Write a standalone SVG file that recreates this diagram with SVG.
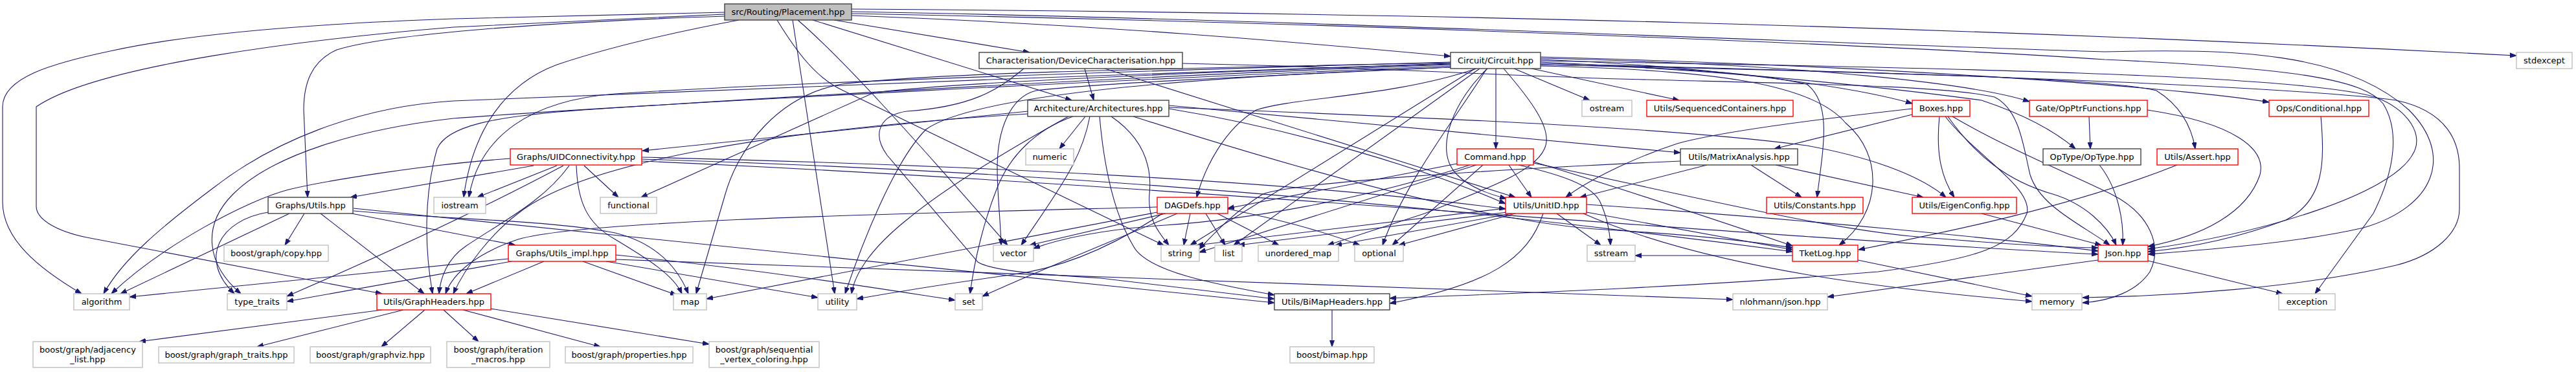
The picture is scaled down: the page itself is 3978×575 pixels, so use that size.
<svg xmlns="http://www.w3.org/2000/svg" width="3978" height="575" viewBox="0 0 3978 575">
<defs>
<style>
.e{fill:none;stroke:#191970;stroke-width:1.1;marker-end:url(#a)}
.n rect{fill:#fff;stroke-width:1.4}
.b rect{stroke:#404040}
.r rect{stroke:#ff0000}
.g rect{stroke:#bfbfbf}
.root rect{fill:#bfbfbf;stroke:#404040}
text{font-family:"DejaVu Sans","Liberation Sans",sans-serif;font-size:13px;text-anchor:middle;fill:#000}
</style>
<marker id="a" viewBox="0 0 10 8" refX="10" refY="4" markerWidth="10" markerHeight="8" markerUnits="userSpaceOnUse" orient="auto"><path d="M0,0.5L10,4L0,7.5z" fill="#191970" stroke="#191970" stroke-width="1"/></marker>
</defs>
<rect width="3978" height="575" fill="#fff"/>
<g id="edges">
<path class="e" d="M1119,19 C950,22 800,26 700,29 C500,36 300,50 170,79 C80,98 4,120 4,165 L4,312 C4,370 60,415 126,454"/>
<path class="e" d="M1119,22 C950,30 820,37 700,42 C480,60 150,100 56,165 L56,319 C56,340 90,358 134,367 L590,454"/>
<path class="e" d="M1119,25 C850,34 600,52 520,77 C480,95 469,130 469,170 L475,305"/>
<path class="e" d="M1141,31 C1040,50 940,73 860,100 C780,130 730,200 716,305"/>
<path class="e" d="M1288,31 L1590,81"/>
<path class="e" d="M1255,31 L1655,155"/>
<path class="e" d="M1315,24 C1700,38 2000,65 2240,87"/>
<path class="e" d="M1315,14 C2200,20 3000,40 3886,86"/>
<path class="e" d="M1232,31 C1300,90 1400,200 1556,379"/>
<path class="e" d="M1200,31 C1230,80 1260,120 1300,139 L1797,379"/>
<path class="e" d="M1224,31 L1289,454"/>
<path class="e" d="M1315,18 C2000,30 2900,70 3250,80 C3450,75 3620,80 3720,170 C3790,240 3760,320 3650,352 C3550,375 3420,385 3317,393"/>
<path class="e" d="M1315,21 C2200,38 3000,75 3250,92 C3560,106 3650,125 3680,160 C3705,200 3700,260 3665,330 L3575,454"/>
<path class="e" d="M1675,106 L1689,155"/>
<path class="e" d="M1706,106 L2340,305"/>
<path class="e" d="M1581,106 C1540,140 1500,165 1400,172 C1360,178 1345,205 1370,240 L1510,405 C1530,418 1600,424 1700,430 L1968,462"/>
<path class="e" d="M1826,98 C2150,105 2300,116 2500,122 C2800,130 3000,132 3080,150 C3120,170 3125,230 3135,270 C3150,320 3220,350 3258,379"/>
<path class="e" d="M1676,180 L1636,230"/>
<path class="e" d="M1683,180 C1670,250 1630,300 1577,379"/>
<path class="e" d="M1716,180 C1760,210 1780,250 1775,300 C1772,340 1790,360 1805,379"/>
<path class="e" d="M1657,180 C1600,200 1560,240 1540,290 C1520,340 1505,400 1498,454"/>
<path class="e" d="M1698,180 C1705,260 1720,330 1750,380 C1770,420 1880,440 1968,456"/>
<path class="e" d="M1587,172 L992,233"/>
<path class="e" d="M1650,180 C1560,230 1460,290 1400,340 C1350,380 1320,420 1315,454"/>
<path class="e" d="M1805,168 C2000,200 2200,260 2325,315"/>
<path class="e" d="M1805,163 L2595,236"/>
<path class="e" d="M1805,166 C2300,185 2600,200 2790,225 C2900,245 2970,275 3005,305"/>
<path class="e" d="M1750,180 C2000,260 2300,345 2480,355 C2600,362 2700,372 2768,383"/>
<path class="e" d="M1587,176 C1200,200 900,250 800,330 C760,360 720,410 700,454"/>
<path class="e" d="M824,256 L541,305"/>
<path class="e" d="M788,245 C650,255 500,280 446,293 C380,310 250,380 172,454"/>
<path class="e" d="M860,256 L737,305"/>
<path class="e" d="M902,256 L955,305"/>
<path class="e" d="M890,256 C892,310 905,345 950,370 C1000,400 1040,425 1053,454"/>
<path class="e" d="M879,256 C840,310 780,340 720,380 C690,400 680,430 678,454"/>
<path class="e" d="M870,256 C750,320 600,390 443,458"/>
<path class="e" d="M991,243 C1500,255 2000,280 2325,323"/>
<path class="e" d="M991,246 C1800,270 2400,340 2768,389"/>
<path class="e" d="M991,249 C1800,285 2600,360 3240,393"/>
<path class="e" d="M2330,255 L2365,305"/>
<path class="e" d="M2290,255 L2150,379"/>
<path class="e" d="M2345,255 C2410,270 2455,285 2470,310 C2482,335 2486,360 2487,379"/>
<path class="e" d="M2250,253 L1896,322"/>
<path class="e" d="M2270,255 C2100,310 1920,340 1800,348 C1700,355 1640,368 1596,384"/>
<path class="e" d="M2280,255 L1852,390"/>
<path class="e" d="M2368,250 C2500,290 2650,340 2768,380"/>
<path class="e" d="M2368,252 C2600,300 2800,350 2950,365 C3100,378 3180,382 3240,383"/>
<path class="e" d="M2704,255 L2782,305"/>
<path class="e" d="M2742,255 L2970,305"/>
<path class="e" d="M2636,255 L2440,305"/>
<path class="e" d="M2595,249 C2300,262 2000,282 1950,300 C1910,325 1880,355 1852,385"/>
<path class="e" d="M2953,177 L2740,230"/>
<path class="e" d="M2995,180 C2990,230 2995,270 3018,305"/>
<path class="e" d="M3008,180 C3050,240 3100,280 3170,300 C3220,315 3255,350 3268,379"/>
<path class="e" d="M3015,180 C3100,230 3200,270 3260,300 C3320,330 3340,380 3320,420 C3300,450 3260,465 3216,468"/>
<path class="e" d="M2953,168 C2800,185 2650,205 2590,222 C2520,245 2450,280 2418,305"/>
<path class="e" d="M3004,180 C3050,240 3140,290 3130,330 C3110,380 3060,400 2900,420 C2600,445 2300,455 2146,461"/>
<path class="e" d="M3226,180 L3228,230"/>
<path class="e" d="M3242,255 C3270,290 3280,340 3278,379"/>
<path class="e" d="M3584,180 C3590,250 3590,310 3530,340 C3450,370 3380,383 3317,389"/>
<path class="e" d="M3362,255 C3200,320 3000,360 2870,386"/>
<path class="e" d="M3316,170 C3450,190 3500,230 3490,270 C3470,330 3400,365 3317,381"/>
<path class="e" d="M447,330 L186,454"/>
<path class="e" d="M414,328 C340,340 305,400 362,454"/>
<path class="e" d="M470,330 L440,379"/>
<path class="e" d="M495,330 L655,454"/>
<path class="e" d="M543,330 L796,379"/>
<path class="e" d="M546,326 C700,340 850,340 950,360 C1010,375 1045,410 1063,454"/>
<path class="e" d="M546,322 L1968,468"/>
<path class="e" d="M785,400 L200,459"/>
<path class="e" d="M790,404 L443,466"/>
<path class="e" d="M840,404 L720,454"/>
<path class="e" d="M900,404 L1045,456"/>
<path class="e" d="M936,404 L1263,460"/>
<path class="e" d="M951,394 C1200,420 1350,445 1475,464"/>
<path class="e" d="M951,401 L2676,463"/>
<path class="e" d="M1800,330 L1590,379"/>
<path class="e" d="M1838,330 L1828,379"/>
<path class="e" d="M1862,330 L1892,379"/>
<path class="e" d="M1880,330 L1975,379"/>
<path class="e" d="M1818,330 C1700,380 1600,420 1517,458"/>
<path class="e" d="M1787,320 C1400,330 900,340 800,370 C740,390 700,420 688,454"/>
<path class="e" d="M1896,323 C1980,340 2050,360 2100,379"/>
<path class="e" d="M1795,330 C1720,380 1640,415 1560,425 C1450,440 1380,452 1323,462"/>
<path class="e" d="M1787,328 L1091,462"/>
<path class="e" d="M2340,330 L2160,379"/>
<path class="e" d="M2335,330 L2062,379"/>
<path class="e" d="M2404,330 L2472,379"/>
<path class="e" d="M2383,330 C2360,400 2300,440 2146,469"/>
<path class="e" d="M2450,328 L2768,386"/>
<path class="e" d="M2450,316 C2800,340 3100,370 3240,388"/>
<path class="e" d="M2325,322 L1848,379"/>
<path class="e" d="M2328,328 L1912,379"/>
<path class="e" d="M2445,330 C2650,420 2950,450 3138,466"/>
<path class="e" d="M3060,330 L3245,379"/>
<path class="e" d="M2869,402 L3138,458"/>
<path class="e" d="M2768,395 L2525,395"/>
<path class="e" d="M3240,402 L2822,459"/>
<path class="e" d="M3317,403 L3525,454"/>
<path class="e" d="M590,479 L215,528"/>
<path class="e" d="M623,479 L397,536"/>
<path class="e" d="M656,479 L589,536"/>
<path class="e" d="M685,479 L739,528"/>
<path class="e" d="M715,479 L927,536"/>
<path class="e" d="M757,477 L1095,532"/>
<path class="e" d="M2057,479 L2057,536"/>
<path class="e" d="M2310,106 L2310,230"/>
<path class="e" d="M2338,106 L2455,155"/>
<path class="e" d="M2365,106 L2593,155"/>
<path class="e" d="M2297,106 C2250,150 2210,230 2250,270 C2270,290 2300,300 2326,307"/>
<path class="e" d="M2322,106 C2360,150 2400,200 2385,230 C2370,265 2300,290 2200,330 L2050,379"/>
<path class="e" d="M2296,106 C2250,180 2170,280 2135,379"/>
<path class="e" d="M2280,106 C2150,150 2000,150 1940,170 C1890,200 1860,260 1848,305"/>
<path class="e" d="M2285,106 L1905,379"/>
<path class="e" d="M2278,106 L1838,379"/>
<path class="e" d="M2240,104 C2000,115 1700,128 1600,140 C1560,150 1540,200 1540,260 C1540,300 1545,340 1546,379"/>
<path class="e" d="M2240,98 C1800,110 1000,145 700,156 C550,165 420,220 330,290 C250,350 190,400 160,454"/>
<path class="e" d="M2240,102 C1800,120 1000,160 700,183 C550,200 420,240 360,300 C310,350 320,410 372,454"/>
<path class="e" d="M2240,100 C1800,115 1200,150 900,170 C760,180 690,195 675,230 C655,300 655,380 668,454"/>
<path class="e" d="M2240,96 C1800,108 1200,128 950,145 C820,155 740,210 724,305"/>
<path class="e" d="M2240,99 C1900,110 1500,125 1350,143 L990,305"/>
<path class="e" d="M2240,97 C1800,106 1450,112 1300,130 C1200,148 1140,230 1120,300 L1075,454"/>
<path class="e" d="M2240,104 C1800,120 1500,150 1430,200 C1380,250 1330,380 1305,454"/>
<path class="e" d="M2379,92 C2600,100 2850,130 2953,160"/>
<path class="e" d="M2379,90 C2800,100 3050,130 3134,157"/>
<path class="e" d="M2379,96 C2700,110 2950,140 3060,155 C3120,175 3170,200 3205,230"/>
<path class="e" d="M2379,88 C3000,105 3400,140 3504,158"/>
<path class="e" d="M2379,98 C2900,112 3250,120 3330,140 C3370,165 3385,200 3390,230"/>
<path class="e" d="M2379,94 C3000,105 3550,115 3668,150 C3720,170 3745,210 3725,240 C3690,300 3500,360 3317,385"/>
<path class="e" d="M2379,100 C3000,112 3550,135 3700,155 C3780,172 3798,220 3798,260 L3798,323 C3798,360 3760,395 3700,410 C3550,445 3350,458 3216,460"/>
<path class="e" d="M2379,100 C2550,103 2700,110 2790,130 C2830,160 2815,230 2806,305"/>
<path class="e" d="M2379,102 C2650,108 2800,130 2850,190 C2910,240 2905,330 2840,379"/>
</g>
<g id="n-placement" class="n root"><rect x="1119" y="6" width="196" height="25"/><text x="1217" y="23">src/Routing/Placement.hpp</text></g>
<g id="n-devchar" class="n b"><rect x="1512" y="81" width="314" height="25"/><text x="1669" y="98">Characterisation/DeviceCharacterisation.hpp</text></g>
<g id="n-circuit" class="n b"><rect x="2240" y="81" width="139" height="25"/><text x="2309.5" y="98">Circuit/Circuit.hpp</text></g>
<g id="n-stdexcept" class="n g"><rect x="3886" y="81" width="86" height="25"/><text x="3929" y="98">stdexcept</text></g>
<g id="n-arch" class="n b"><rect x="1587" y="155" width="218" height="25"/><text x="1696" y="172">Architecture/Architectures.hpp</text></g>
<g id="n-ostream" class="n g"><rect x="2443" y="155" width="77" height="25"/><text x="2481.5" y="172">ostream</text></g>
<g id="n-seqcont" class="n r"><rect x="2543" y="155" width="226" height="25"/><text x="2656" y="172">Utils/SequencedContainers.hpp</text></g>
<g id="n-boxes" class="n r"><rect x="2953" y="155" width="89" height="25"/><text x="2997.5" y="172">Boxes.hpp</text></g>
<g id="n-opptr" class="n r"><rect x="3134" y="155" width="182" height="25"/><text x="3225" y="172">Gate/OpPtrFunctions.hpp</text></g>
<g id="n-cond" class="n r"><rect x="3504" y="155" width="154" height="25"/><text x="3581" y="172">Ops/Conditional.hpp</text></g>
<g id="n-uidconn" class="n r"><rect x="788" y="230" width="203" height="25"/><text x="889.5" y="247">Graphs/UIDConnectivity.hpp</text></g>
<g id="n-numeric" class="n g"><rect x="1584" y="230" width="74" height="25"/><text x="1621" y="247">numeric</text></g>
<g id="n-command" class="n r"><rect x="2250" y="230" width="118" height="25"/><text x="2309" y="247">Command.hpp</text></g>
<g id="n-matrix" class="n b"><rect x="2595" y="230" width="181" height="25"/><text x="2685.5" y="247">Utils/MatrixAnalysis.hpp</text></g>
<g id="n-optype" class="n b"><rect x="3155" y="230" width="151" height="25"/><text x="3230.5" y="247">OpType/OpType.hpp</text></g>
<g id="n-assert" class="n r"><rect x="3331" y="230" width="125" height="25"/><text x="3393.5" y="247">Utils/Assert.hpp</text></g>
<g id="n-gutils" class="n b"><rect x="414" y="305" width="131" height="25"/><text x="479.5" y="322">Graphs/Utils.hpp</text></g>
<g id="n-iostream" class="n g"><rect x="670" y="305" width="80" height="25"/><text x="710" y="322">iostream</text></g>
<g id="n-functional" class="n g"><rect x="927" y="305" width="87" height="25"/><text x="970.5" y="322">functional</text></g>
<g id="n-dagdefs" class="n r"><rect x="1787" y="305" width="109" height="25"/><text x="1841.5" y="322">DAGDefs.hpp</text></g>
<g id="n-unitid" class="n r"><rect x="2325" y="305" width="125" height="25"/><text x="2387.5" y="322">Utils/UnitID.hpp</text></g>
<g id="n-constants" class="n r"><rect x="2728" y="305" width="149" height="25"/><text x="2802.5" y="322">Utils/Constants.hpp</text></g>
<g id="n-eigen" class="n r"><rect x="2953" y="305" width="161" height="25"/><text x="3033.5" y="322">Utils/EigenConfig.hpp</text></g>
<g id="n-copy" class="n g"><rect x="346" y="379" width="161" height="25"/><text x="426.5" y="396">boost/graph/copy.hpp</text></g>
<g id="n-utilsimpl" class="n r"><rect x="785" y="379" width="166" height="25"/><text x="868" y="396">Graphs/Utils_impl.hpp</text></g>
<g id="n-vector" class="n g"><rect x="1534" y="379" width="62" height="25"/><text x="1565" y="396">vector</text></g>
<g id="n-string" class="n g"><rect x="1793" y="379" width="59" height="25"/><text x="1822.5" y="396">string</text></g>
<g id="n-list" class="n g"><rect x="1876" y="379" width="42" height="25"/><text x="1897" y="396">list</text></g>
<g id="n-umap" class="n g"><rect x="1943" y="379" width="124" height="25"/><text x="2005" y="396">unordered_map</text></g>
<g id="n-optional" class="n g"><rect x="2092" y="379" width="75" height="25"/><text x="2129.5" y="396">optional</text></g>
<g id="n-sstream" class="n g"><rect x="2451" y="379" width="74" height="25"/><text x="2488" y="396">sstream</text></g>
<g id="n-tketlog" class="n r"><rect x="2768" y="379" width="101" height="25"/><text x="2818.5" y="396">TketLog.hpp</text></g>
<g id="n-json" class="n r"><rect x="3240" y="379" width="77" height="25"/><text x="3278.5" y="396">Json.hpp</text></g>
<g id="n-algorithm" class="n g"><rect x="114" y="454" width="86" height="25"/><text x="157" y="471">algorithm</text></g>
<g id="n-typetraits" class="n g"><rect x="351" y="454" width="92" height="25"/><text x="397" y="471">type_traits</text></g>
<g id="n-graphheaders" class="n r"><rect x="582" y="454" width="176" height="25"/><text x="670" y="471">Utils/GraphHeaders.hpp</text></g>
<g id="n-map" class="n g"><rect x="1040" y="454" width="51" height="25"/><text x="1065.5" y="471">map</text></g>
<g id="n-utility" class="n g"><rect x="1263" y="454" width="60" height="25"/><text x="1293" y="471">utility</text></g>
<g id="n-set" class="n g"><rect x="1475" y="454" width="42" height="25"/><text x="1496" y="471">set</text></g>
<g id="n-bimapheaders" class="n b"><rect x="1968" y="454" width="178" height="25"/><text x="2057" y="471">Utils/BiMapHeaders.hpp</text></g>
<g id="n-nlohmann" class="n g"><rect x="2676" y="454" width="146" height="25"/><text x="2749" y="471">nlohmann/json.hpp</text></g>
<g id="n-memory" class="n g"><rect x="3138" y="454" width="77" height="25"/><text x="3176.5" y="471">memory</text></g>
<g id="n-exception" class="n g"><rect x="3519" y="454" width="87" height="25"/><text x="3562.5" y="471">exception</text></g>
<g id="n-adjlist" class="n g"><rect x="51" y="528" width="169" height="40"/><text x="135.5" y="545">boost/graph/adjacency</text><text x="135.5" y="560">_list.hpp</text></g>
<g id="n-graphtraits" class="n g"><rect x="245" y="536" width="209" height="25"/><text x="349.5" y="553">boost/graph/graph_traits.hpp</text></g>
<g id="n-graphviz" class="n g"><rect x="479" y="536" width="186" height="25"/><text x="572" y="553">boost/graph/graphviz.hpp</text></g>
<g id="n-itermacros" class="n g"><rect x="690" y="528" width="159" height="40"/><text x="769.5" y="545">boost/graph/iteration</text><text x="769.5" y="560">_macros.hpp</text></g>
<g id="n-properties" class="n g"><rect x="873" y="536" width="197" height="25"/><text x="971.5" y="553">boost/graph/properties.hpp</text></g>
<g id="n-seqcolor" class="n g"><rect x="1095" y="528" width="170" height="40"/><text x="1180" y="545">boost/graph/sequential</text><text x="1180" y="560">_vertex_coloring.hpp</text></g>
<g id="n-bimap" class="n g"><rect x="1992" y="536" width="130" height="25"/><text x="2057" y="553">boost/bimap.hpp</text></g>
</svg>
